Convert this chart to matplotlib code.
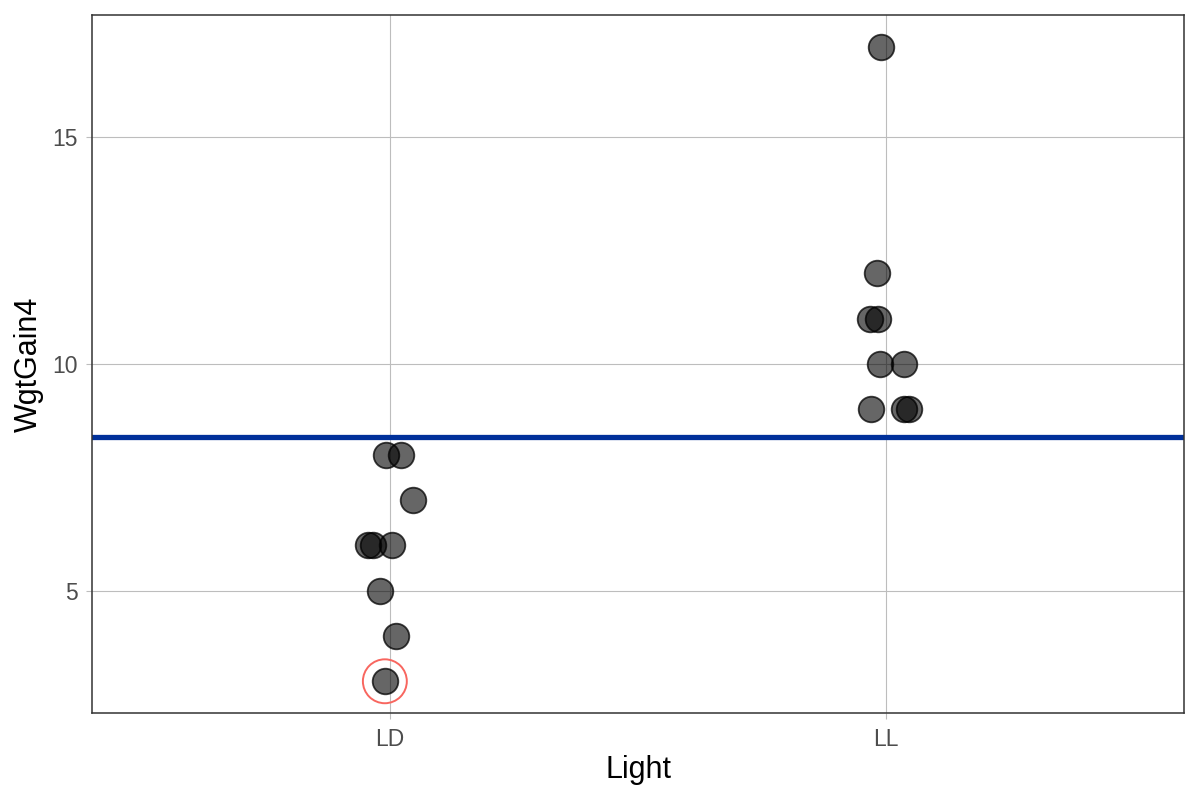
import matplotlib
matplotlib.use("Agg")
import matplotlib.pyplot as plt
import numpy as np

plt.rcParams['font.family'] = ['Liberation Sans', 'DejaVu Sans']

categories = ["LD", "LL"]
ld_values = [8, 8, 7, 6, 6, 6, 5, 4, 3]
ld_jitter = [-0.008, 0.022, 0.046, -0.044, -0.034, 0.004, -0.020, 0.012, -0.010]
ll_values = [17, 12, 11, 11, 10, 10, 9, 9, 9]
ll_jitter = [-0.010, -0.018, -0.032, -0.016, -0.012, 0.036, -0.030, 0.036, 0.046]
highlight = ("LD", 3, -0.010)

fig = plt.figure(figsize=(12, 8), dpi=100)
ax = fig.add_axes([92/1200, 87/800, (1184-92)/1200, (713-15)/800])

xs = []
ys = []
for i, (vals, jit) in enumerate([(ld_values, ld_jitter), (ll_values, ll_jitter)]):
    for v, j in zip(vals, jit):
        xs.append(i + 1 + j)
        ys.append(v)

allv = np.array(ld_values + ll_values, dtype=float)
mean_v = allv.mean()

ax.axhline(mean_v, color="#00309a", lw=3.8, zorder=2)
ax.scatter(xs, ys, s=340, facecolor=(0, 0, 0, 0.6), edgecolor=(0, 0, 0, 0.75),
           linewidth=1.3, zorder=3)
hx = categories.index(highlight[0]) + 1 + highlight[2]
ax.scatter([hx], [highlight[1]], s=1000, facecolor="none", edgecolor="#f8665f",
           linewidth=1.4, zorder=4)

ax.set_xlim(0.4, 2.6)
rng = allv.max() - allv.min()
ax.set_ylim(allv.min() - 0.05 * rng, allv.max() + 0.05 * rng)
ax.set_xticks([1, 2])
ax.set_xticklabels(categories)
ax.set_yticks([5, 10, 15])
ax.grid(True, color="#bdbdbd", lw=0.8, zorder=0)
ax.set_axisbelow(True)
for sp in ax.spines.values():
    sp.set_color("#333333")
    sp.set_linewidth(1.1)
ax.tick_params(colors="#bdbdbd", labelcolor="#4d4d4d", labelsize=16.5, length=4, width=0.8, pad=6.5)
ax.set_xlabel("Light", fontsize=22, color="black", labelpad=3)
ax.set_ylabel("WgtGain4", fontsize=22, color="black", labelpad=6)

fig.savefig("out.png", dpi=100)
